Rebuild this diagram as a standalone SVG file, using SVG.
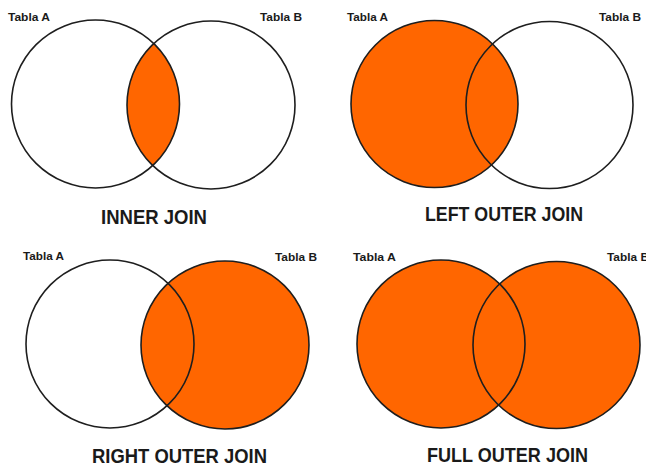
<svg xmlns="http://www.w3.org/2000/svg" width="646" height="465" viewBox="0 0 646 465">
<style>
.bg{fill:#ffffff}
.c{fill:none;stroke:#1e1e1e;stroke-width:1.6}
.f{fill:#ff6600;stroke:none}
.lbl{font-family:"Liberation Sans",Arial,sans-serif;font-weight:bold;font-size:11.5px;fill:#1a1a1a}
.ttl{font-family:"Liberation Sans",Arial,sans-serif;font-weight:bold;font-size:21px;fill:#1a1a1a}
</style>
<defs>
<clipPath id="clipA1"><circle cx="95.5" cy="104" r="84"/></clipPath>
</defs>
<rect class="bg" x="0" y="0" width="646" height="465"/>
<g id="inner-join">
<circle class="f" cx="211" cy="105" r="84" clip-path="url(#clipA1)"/>
<circle class="c" cx="95.5" cy="104" r="84"/>
<circle class="c" cx="211" cy="105" r="84"/>
<text class="lbl" x="8" y="21" textLength="42" lengthAdjust="spacingAndGlyphs">Tabla A</text>
<text class="lbl" x="260" y="21" textLength="42" lengthAdjust="spacingAndGlyphs">Tabla B</text>
<text class="ttl" x="101" y="224" textLength="106" lengthAdjust="spacingAndGlyphs">INNER JOIN</text>
</g>
<g id="left-outer-join">
<circle class="f" cx="434.5" cy="104" r="83.5"/>
<circle class="c" cx="434.5" cy="104" r="83.5"/>
<circle class="c" cx="549.5" cy="105" r="83.5"/>
<text class="lbl" x="347" y="21" textLength="41" lengthAdjust="spacingAndGlyphs">Tabla A</text>
<text class="lbl" x="599" y="21" textLength="42" lengthAdjust="spacingAndGlyphs">Tabla B</text>
<text class="ttl" x="425" y="221" textLength="158" lengthAdjust="spacingAndGlyphs">LEFT OUTER JOIN</text>
</g>
<g id="right-outer-join">
<circle class="f" cx="225" cy="345" r="84"/>
<circle class="c" cx="110" cy="344" r="84"/>
<circle class="c" cx="225" cy="345" r="84"/>
<text class="lbl" x="23" y="260" textLength="41" lengthAdjust="spacingAndGlyphs">Tabla A</text>
<text class="lbl" x="275" y="261" textLength="42" lengthAdjust="spacingAndGlyphs">Tabla B</text>
<text class="ttl" x="92" y="463" textLength="175" lengthAdjust="spacingAndGlyphs">RIGHT OUTER JOIN</text>
</g>
<g id="full-outer-join">
<circle class="f" cx="441" cy="344" r="84"/>
<circle class="f" cx="556.5" cy="345" r="83.5"/>
<circle class="c" cx="441" cy="344" r="84"/>
<circle class="c" cx="556.5" cy="345" r="83.5"/>
<text class="lbl" x="353" y="261" textLength="43" lengthAdjust="spacingAndGlyphs">Tabla A</text>
<text class="lbl" x="607" y="261" textLength="42" lengthAdjust="spacingAndGlyphs">Tabla B</text>
<text class="ttl" x="427" y="462" textLength="161" lengthAdjust="spacingAndGlyphs">FULL OUTER JOIN</text>
</g>
<g id="connectors"/>
</svg>
